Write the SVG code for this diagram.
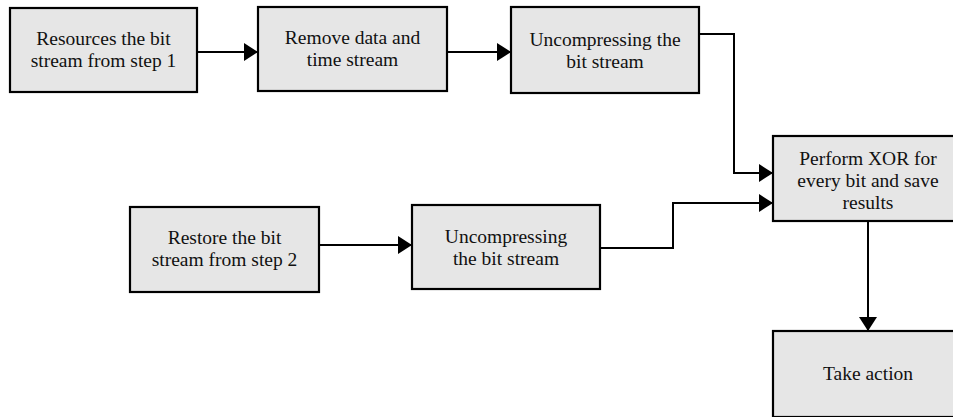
<svg xmlns="http://www.w3.org/2000/svg" width="953" height="417" viewBox="0 0 953 417">
<style>
.box{fill:#e6e6e6;stroke:#000;stroke-width:2.2}
text{font-family:'Liberation Serif',serif;font-size:19.5px;fill:#111;text-anchor:middle}
.c{fill:none;stroke:#000;stroke-width:2}
</style>
<defs>
<marker id="ah" markerUnits="userSpaceOnUse" markerWidth="14" markerHeight="18" refX="14" refY="9" orient="auto">
<path d="M0,0 L14,9 L0,18 z" fill="#000"/>
</marker>
</defs>
<rect width="953" height="417" fill="#fff"/>
<g id="connectors">
<path class="c" d="M197,52 H258" marker-end="url(#ah)"/>
<path class="c" d="M447,52 H511" marker-end="url(#ah)"/>
<path class="c" d="M699,34 H734 V173 H773" marker-end="url(#ah)"/>
<path class="c" d="M319,245 H412" marker-end="url(#ah)"/>
<path class="c" d="M600,248 H673 V203 H773" marker-end="url(#ah)"/>
<path class="c" d="M868,221 V331" marker-end="url(#ah)"/>
</g>
<g font-family="Liberation Serif, serif">
<g id="n1">
<rect class="box" x="10" y="8" width="187" height="84"/>
<text x="103.5" y="45">Resources the bit</text>
<text x="103.5" y="67">stream from step 1</text>
</g>
<g id="n2">
<rect class="box" x="258" y="7" width="189" height="84"/>
<text x="352.5" y="44">Remove data and</text>
<text x="352.5" y="66">time stream</text>
</g>
<g id="n3">
<rect class="box" x="511" y="7" width="188" height="86"/>
<text x="605" y="46">Uncompressing the</text>
<text x="605" y="68">bit stream</text>
</g>
<g id="n4">
<rect class="box" x="773" y="136" width="192" height="85"/>
<text x="868" y="165">Perform XOR for</text>
<text x="868" y="187">every bit and save</text>
<text x="868" y="209">results</text>
</g>
<g id="n5">
<rect class="box" x="130" y="207" width="189" height="85"/>
<text x="224.5" y="244">Restore the bit</text>
<text x="224.5" y="266">stream from step 2</text>
</g>
<g id="n6">
<rect class="box" x="412" y="205" width="188" height="84"/>
<text x="506" y="243">Uncompressing</text>
<text x="506" y="265">the bit stream</text>
</g>
<g id="n7">
<rect class="box" x="773" y="331" width="192" height="86"/>
<text x="868" y="380">Take action</text>
</g>
</g>
</svg>
